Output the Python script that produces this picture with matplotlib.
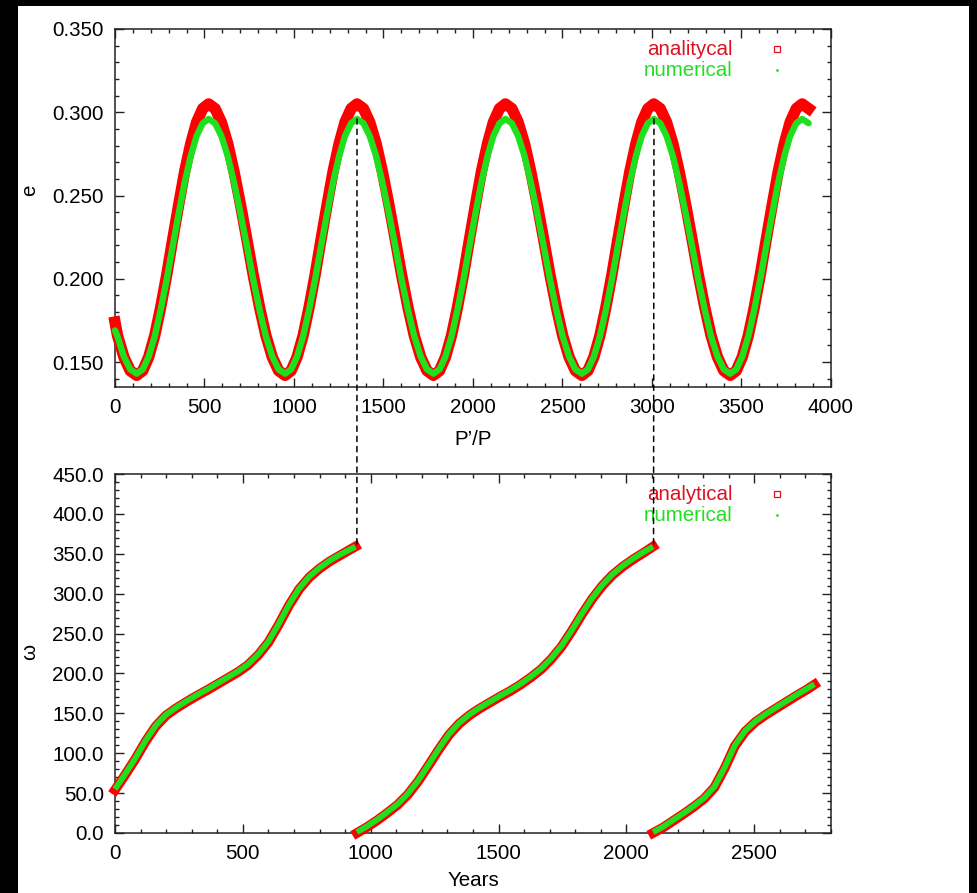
import matplotlib
matplotlib.use('Agg')
import matplotlib.pyplot as plt
from matplotlib.ticker import MultipleLocator, FormatStrFormatter
from matplotlib.patches import Rectangle, ConnectionPatch

plt.rcParams['font.family'] = ['Liberation Sans', 'DejaVu Sans']

# ---------------- data: top panel (e vs P'/P) ----------------
ratio_x = [0, 14, 50, 85,
           121, 155, 188, 222, 255, 289, 322, 356, 389, 423, 456, 490, 523, 559, 594, 630, 665, 701, 737, 772, 808, 843, 879, 914,
           950, 984, 1017, 1051, 1084, 1118, 1151, 1185, 1218, 1252, 1285, 1319, 1352, 1388, 1423, 1459, 1494, 1530, 1566, 1601, 1637, 1672, 1708, 1743,
           1779, 1813, 1846, 1880, 1913, 1947, 1980, 2014, 2047, 2081, 2114, 2148, 2181, 2217, 2252, 2288, 2323, 2359, 2395, 2430, 2466, 2501, 2537, 2572,
           2608, 2642, 2675, 2709, 2742, 2776, 2809, 2843, 2876, 2910, 2943, 2977, 3010, 3046, 3081, 3117, 3152, 3188, 3224, 3259, 3295, 3330, 3366, 3401,
           3437, 3471, 3504, 3538, 3571, 3605, 3638, 3672, 3705, 3739, 3772, 3806, 3839, 3875]

e_analytical = [0.1740, 0.1659, 0.1529, 0.1448,
                0.1420, 0.1448, 0.1529, 0.1659, 0.1827, 0.2024, 0.2235, 0.2446, 0.2643, 0.2811, 0.2941, 0.3022, 0.3050, 0.3022, 0.2941, 0.2811, 0.2643, 0.2446, 0.2235, 0.2024, 0.1827, 0.1659, 0.1529, 0.1448,
                0.1420, 0.1448, 0.1529, 0.1659, 0.1827, 0.2024, 0.2235, 0.2446, 0.2643, 0.2811, 0.2941, 0.3022, 0.3050, 0.3022, 0.2941, 0.2811, 0.2643, 0.2446, 0.2235, 0.2024, 0.1827, 0.1659, 0.1529, 0.1448,
                0.1420, 0.1448, 0.1529, 0.1659, 0.1827, 0.2024, 0.2235, 0.2446, 0.2643, 0.2811, 0.2941, 0.3022, 0.3050, 0.3022, 0.2941, 0.2811, 0.2643, 0.2446, 0.2235, 0.2024, 0.1827, 0.1659, 0.1529, 0.1448,
                0.1420, 0.1448, 0.1529, 0.1659, 0.1827, 0.2024, 0.2235, 0.2446, 0.2643, 0.2811, 0.2941, 0.3022, 0.3050, 0.3022, 0.2941, 0.2811, 0.2643, 0.2446, 0.2235, 0.2024, 0.1827, 0.1659, 0.1529, 0.1448,
                0.1420, 0.1448, 0.1529, 0.1659, 0.1827, 0.2024, 0.2235, 0.2446, 0.2643, 0.2811, 0.2941, 0.3022, 0.3050, 0.3022]

e_numerical = [0.1690, 0.1654, 0.1532, 0.1456,
               0.1430, 0.1456, 0.1532, 0.1654, 0.1812, 0.1997, 0.2195, 0.2393, 0.2578, 0.2736, 0.2858, 0.2934, 0.2960, 0.2934, 0.2858, 0.2736, 0.2578, 0.2393, 0.2195, 0.1997, 0.1812, 0.1654, 0.1532, 0.1456,
               0.1430, 0.1456, 0.1532, 0.1654, 0.1812, 0.1997, 0.2195, 0.2393, 0.2578, 0.2736, 0.2858, 0.2934, 0.2960, 0.2934, 0.2858, 0.2736, 0.2578, 0.2393, 0.2195, 0.1997, 0.1812, 0.1654, 0.1532, 0.1456,
               0.1430, 0.1456, 0.1532, 0.1654, 0.1812, 0.1997, 0.2195, 0.2393, 0.2578, 0.2736, 0.2858, 0.2934, 0.2960, 0.2934, 0.2858, 0.2736, 0.2578, 0.2393, 0.2195, 0.1997, 0.1812, 0.1654, 0.1532, 0.1456,
               0.1430, 0.1456, 0.1532, 0.1654, 0.1812, 0.1997, 0.2195, 0.2393, 0.2578, 0.2736, 0.2858, 0.2934, 0.2960, 0.2934, 0.2858, 0.2736, 0.2578, 0.2393, 0.2195, 0.1997, 0.1812, 0.1654, 0.1532, 0.1456,
               0.1430, 0.1456, 0.1532, 0.1654, 0.1812, 0.1997, 0.2195, 0.2393, 0.2578, 0.2736, 0.2858, 0.2934, 0.2960, 0.2934]

# ---------------- data: bottom panel (omega vs Years), three branches ----------------
years_1 = [0, 40, 80, 120, 160, 200, 240, 280, 320, 360, 400, 440, 480, 520, 560, 600, 640, 680, 720, 760, 800, 840, 880, 910, 940]
omega_num_1 = [55, 74, 94, 116, 135, 148.5, 157.5, 165.5, 173, 180, 187.5, 195, 202.5, 211.5, 224, 240, 262, 286, 306.5, 321.5, 332.5, 341.5, 349, 354, 359]
omega_ana_1 = [54, 73, 93, 115, 134, 147.5, 156.5, 164.5, 172, 179, 186.5, 194, 201.5, 210.5, 223, 239, 261, 285, 305.5, 320.5, 331.5, 340.5, 348, 353.5, 359]

years_2 = [946, 986, 1026, 1066, 1106, 1146, 1186, 1226, 1266, 1306, 1346, 1386, 1426, 1466, 1506, 1546, 1586, 1626, 1666, 1706, 1746, 1786, 1826, 1866, 1906, 1946, 1986, 2026, 2066, 2104]
omega_num_2 = [1, 8.5, 17, 26.5, 36.5, 49.5, 66, 85.5, 105.5, 124, 138, 148.5, 157, 164.5, 172, 179, 187, 196, 206, 219, 234.5, 254, 275, 294.5, 311, 324.5, 335, 344, 352, 359]
omega_ana_2 = [0, 7.5, 16, 25.5, 35.5, 48.5, 65, 84.5, 104.5, 123, 137, 147.5, 156, 163.5, 171, 178, 186, 195, 205, 218, 233.5, 253, 274, 293.5, 310, 323.5, 334, 343, 351, 359]

years_3 = [2104, 2144, 2184, 2224, 2264, 2304, 2344, 2384, 2424, 2464, 2504, 2544, 2584, 2624, 2664, 2704, 2735]
omega_num_3 = [1, 8, 16.5, 25, 34, 44, 58, 82, 110, 128, 140, 149, 157, 165, 173, 180.5, 186.5]
omega_ana_3 = [0, 7, 15.5, 24, 33, 43, 57, 81, 109, 127, 139, 148, 156, 164, 172, 179.5, 186]

RED = '#ff0000'
GREEN = '#1ee01e'
RED_TXT = '#dd1122'
GREEN_TXT = '#22dd22'
FS = 14.8

fig = plt.figure(figsize=(9.78, 8.93), dpi=100, facecolor='black')
fig.patches.append(Rectangle((18 / 978, 0), (969 - 18) / 978, 1 - 6 / 893,
                             transform=fig.transFigure, facecolor='white',
                             edgecolor='none', zorder=-10))

ax1 = fig.add_axes([115 / 978, 1 - 387 / 893, 716 / 978, 358 / 893])
ax2 = fig.add_axes([115 / 978, 1 - 833 / 893, 716 / 978, 359 / 893])

for ax in (ax1, ax2):
    for s in ax.spines.values():
        s.set_linewidth(1.1)
        s.set_color('#222222')
    ax.tick_params(which='both', direction='in', top=True, right=True,
                   labelsize=FS, pad=8, color='#222222')
    ax.tick_params(which='major', length=6.5, width=1.0)
    ax.tick_params(which='minor', length=3.2, width=1.0)

# top panel
ax1.plot(ratio_x, e_analytical, color=RED, lw=8.2, solid_joinstyle='round',
         solid_capstyle='projecting', clip_on=False, zorder=3)
ax1.plot(ratio_x, e_numerical, color=GREEN, lw=4.6, solid_joinstyle='round',
         solid_capstyle='round', clip_on=False, zorder=4)
ax1.set_xlim(0, 4000)
ax1.set_ylim(0.135, 0.350)
ax1.xaxis.set_major_locator(MultipleLocator(500))
ax1.xaxis.set_minor_locator(MultipleLocator(100))
ax1.yaxis.set_major_locator(MultipleLocator(0.05))
ax1.yaxis.set_minor_locator(MultipleLocator(0.01))
ax1.yaxis.set_major_formatter(FormatStrFormatter('%.3f'))

# bottom panel
for yrs, on, oa in ((years_1, omega_num_1, omega_ana_1),
                    (years_2, omega_num_2, omega_ana_2),
                    (years_3, omega_num_3, omega_ana_3)):
    ax2.plot(yrs, oa, color=RED, lw=7.0, solid_joinstyle='round',
             solid_capstyle='projecting', clip_on=False, zorder=3)
    ax2.plot(yrs, on, color=GREEN, lw=4.2, solid_joinstyle='round',
             solid_capstyle='butt', clip_on=False, zorder=4)
ax2.set_xlim(0, 2800)
ax2.set_ylim(0, 450)
ax2.xaxis.set_major_locator(MultipleLocator(500))
ax2.xaxis.set_minor_locator(MultipleLocator(100))
ax2.yaxis.set_major_locator(MultipleLocator(50))
ax2.yaxis.set_minor_locator(MultipleLocator(10))
ax2.yaxis.set_major_formatter(FormatStrFormatter('%.1f'))

# legends
for ax, lab in ((ax1, 'analitycal'), (ax2, 'analytical')):
    ax.text(0.863, 0.944, lab, transform=ax.transAxes, ha='right', va='center',
            color=RED_TXT, fontsize=FS, zorder=6)
    ax.text(0.863, 0.885, 'numerical', transform=ax.transAxes, ha='right', va='center',
            color=GREEN_TXT, fontsize=FS, zorder=6)
    ax.plot([0.925], [0.944], marker='s', ms=4.5, mfc='none', mec=RED_TXT, mew=0.9,
            transform=ax.transAxes, zorder=6)
    ax.plot([0.925], [0.885], marker='o', ms=2.0, mfc=GREEN_TXT, mec='none',
            transform=ax.transAxes, zorder=6)

# axis labels
fig.text(30 / 978, 1 - 190 / 893, 'e', rotation=90, ha='center', va='center', fontsize=FS)
fig.text(473 / 978, 1 - 440 / 893, 'P\u2019/P', ha='center', va='center', fontsize=FS)
fig.text(30 / 978, 1 - 652 / 893, '\u03c9', rotation=90, ha='center', va='center', fontsize=FS)
fig.text(473 / 978, 1 - 880 / 893, 'Years', ha='center', va='center', fontsize=FS)

# dashed connectors
for (xa, ya), (xb, yb) in (((1352, 0.296), (946, 359)), ((3011, 0.296), (2106, 359))):
    con = ConnectionPatch(xyA=(xa, ya), coordsA=ax1.transData,
                          xyB=(xb, yb), coordsB=ax2.transData,
                          color='black', lw=1.1, linestyle=(0, (3.5, 3.2)), zorder=20)
    fig.add_artist(con)

fig.savefig('out.png', dpi=100, facecolor=fig.get_facecolor())
